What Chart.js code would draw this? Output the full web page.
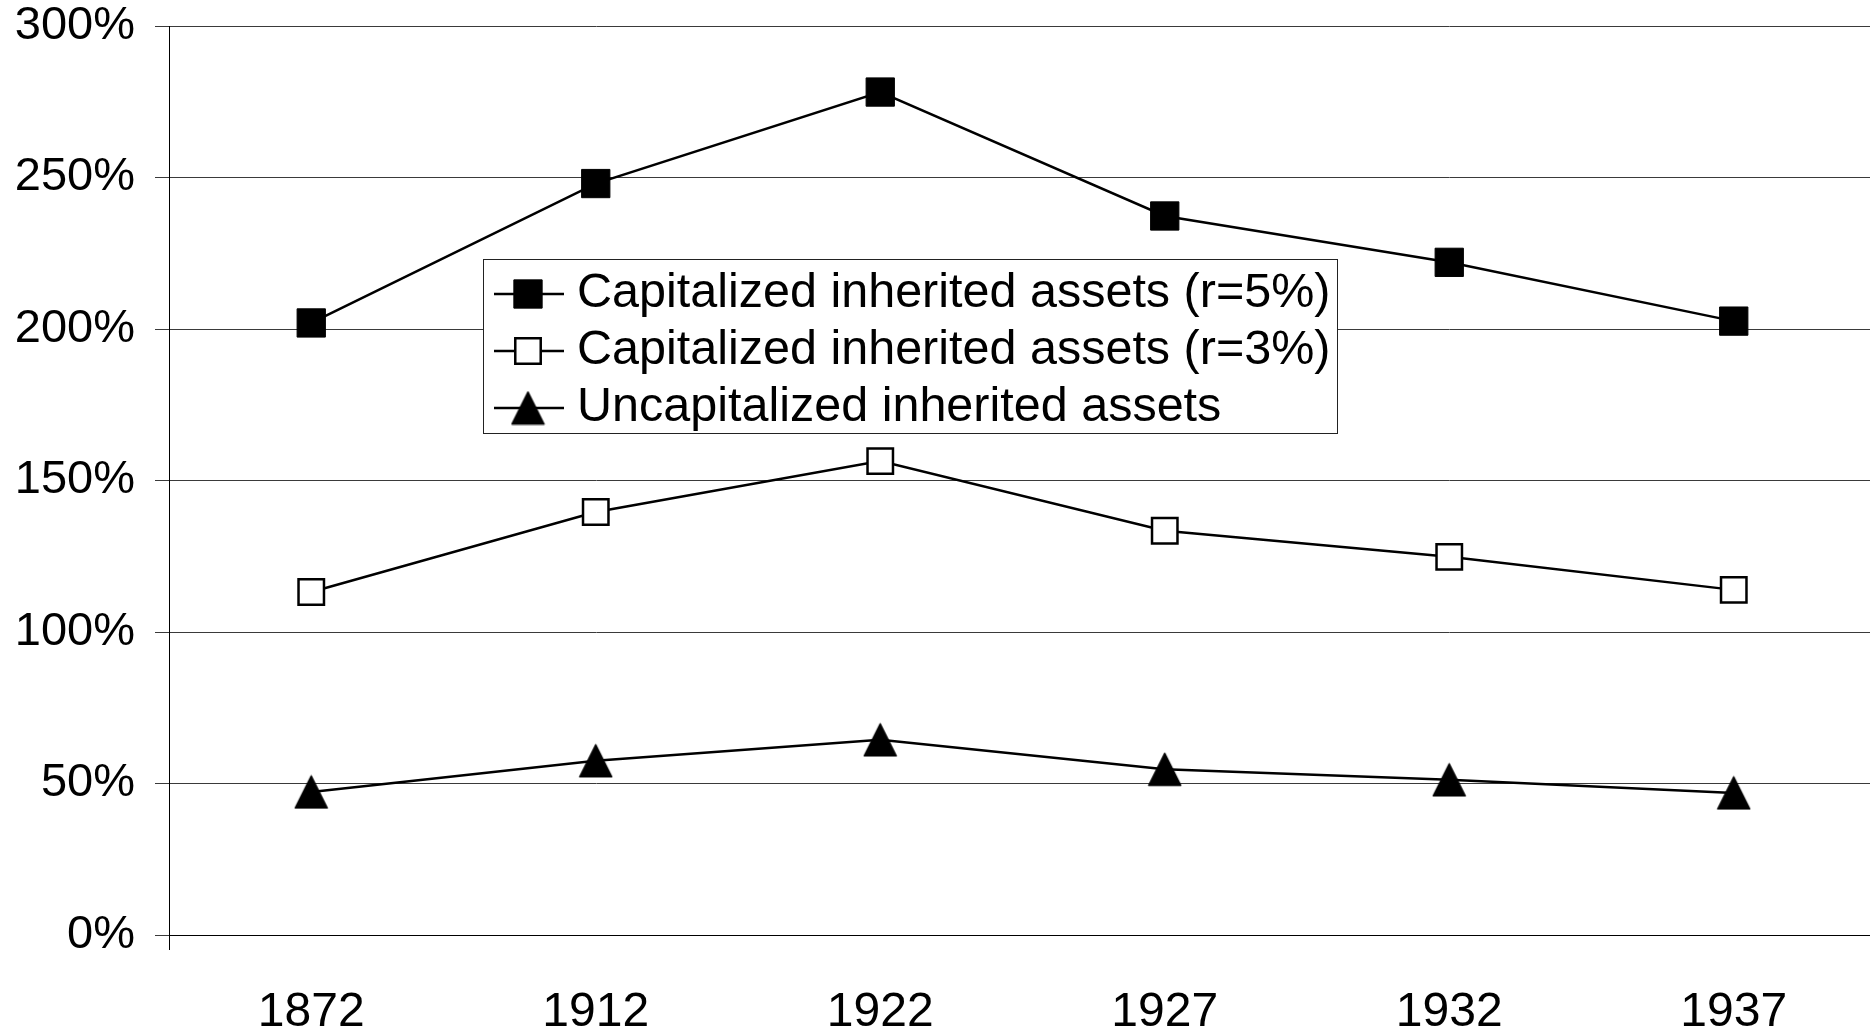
<!DOCTYPE html>
<html lang="en">
<head>
<meta charset="utf-8">
<title>Capitalized inherited assets</title>
<script src="https://cdn.jsdelivr.net/npm/chart.js@4.4.1/dist/chart.umd.min.js"></script>
<style>
  html, body { margin: 0; padding: 0; background: #fff; overflow: hidden; }
  /* plot runs a few px past the right edge of the window, like the original */
  #wrap { position: absolute; left: 0; top: 0; width: 1876px; height: 1030px; }
</style>
</head>
<body>
<div id="wrap"><canvas id="chart"></canvas></div>
<script>
/* ─── DATA ───────────────────────────────────────────────────
   Values, in %.
─────────────────────────────────────────────────────────────── */

const YEARS   = ['1872', '1912', '1922', '1927', '1932', '1937'];
const CAP_R5  = [202.0, 248.0, 278.2, 237.3, 222.0, 202.6];
const CAP_R3  = [113.2, 139.6, 156.4, 133.4, 124.8, 113.9];
const UNCAP   = [47.2, 57.5, 64.4, 54.7, 51.2, 46.9];
const LABELS  = [
  'Capitalized inherited assets (r=5%)',
  'Capitalized inherited assets (r=3%)',
  'Uncapitalized inherited assets',
];
const Y_MIN = 0, Y_MAX = 300, Y_STEP = 50;

const FONT = '"Liberation Sans", Arial, sans-serif';
Chart.defaults.font.family = FONT;
Chart.defaults.color = '#000';


/* ─── TRIANGLE MARKER ────────────────────────────────────────
   Chart.js centres its own triangle on the circumcircle, the
   original centres it on the box, so draw one on a small canvas.
─────────────────────────────────────────────────────────────── */

function makeTriangle(size) {
  const c = document.createElement('canvas');
  c.width = size; c.height = size;
  const g = c.getContext('2d');
  g.fillStyle = '#000';
  g.strokeStyle = '#000';
  g.lineWidth = 1.5;
  g.lineJoin = 'round';
  g.beginPath();
  g.moveTo(size / 2, 1.5);
  g.lineTo(size - 1.5, size - 1.5);
  g.lineTo(1.5, size - 1.5);
  g.closePath();
  g.fill();
  g.stroke();
  return c;
}

const TRIANGLE = makeTriangle(35);


/* ─── LEGEND ─────────────────────────────────────────────────
   Boxed legend inside the plot: line + marker + label per row.
─────────────────────────────────────────────────────────────── */

const boxLegend = {
  id: 'boxLegend',
  afterDraw(chart, args, o) {
    const ctx = chart.ctx;
    ctx.save();
    ctx.fillStyle = '#fff';
    ctx.fillRect(o.x, o.y, o.w, o.h);
    ctx.strokeStyle = '#222';
    ctx.lineWidth = 1;
    ctx.strokeRect(o.x + 0.5, o.y + 0.5, o.w, o.h);

    chart.data.datasets.forEach((ds, i) => {
      const cy = o.y + o.firstRow + i * o.rowGap;

      ctx.strokeStyle = ds.borderColor;
      ctx.lineWidth = ds.borderWidth;
      ctx.beginPath();
      ctx.moveTo(o.x + 11, cy);
      ctx.lineTo(o.x + 81, cy);
      ctx.stroke();

      ctx.fillStyle = ds.pointBackgroundColor;
      ctx.strokeStyle = ds.pointBorderColor;
      ctx.lineWidth = ds.pointBorderWidth;
      Chart.helpers.drawPoint(ctx, {
        pointStyle: ds.pointStyle,
        radius: ds.pointRadius,
        borderWidth: ds.pointBorderWidth,
        rotation: 0,
      }, o.x + 45, cy);

      ctx.fillStyle = '#000';
      ctx.font = `${o.fontSize}px ${FONT}`;
      ctx.textAlign = 'left';
      ctx.textBaseline = 'middle';
      ctx.fillText(ds.label, o.x + 94, cy);
    });
    ctx.restore();
  },
};


/* ─── CHART ──────────────────────────────────────────────────── */

const line = (label, data, extra) => Object.assign({
  label,
  data,
  borderColor: '#000',
  borderWidth: 2.5,
  pointBorderColor: '#000',
  tension: 0,
  fill: false,
}, extra);

new Chart(document.getElementById('chart'), {
  type: 'line',
  data: {
    labels: YEARS,
    datasets: [
      line(LABELS[0], CAP_R5, {
        pointStyle: 'rect', pointRadius: 20, pointBorderWidth: 1,
        pointBackgroundColor: '#000',
      }),
      line(LABELS[1], CAP_R3, {
        pointStyle: 'rect', pointRadius: 18, pointBorderWidth: 2.5,
        pointBackgroundColor: '#fff',
      }),
      line(LABELS[2], UNCAP, {
        pointStyle: TRIANGLE, pointRadius: 18, pointBorderWidth: 1,
        pointBackgroundColor: '#000',
      }),
    ],
  },
  options: {
    responsive: true,
    maintainAspectRatio: false,
    animation: false,
    layout: {
      autoPadding: false,
      padding: { left: 0, right: 0, top: 0, bottom: 0 },
    },
    plugins: {
      legend: { display: false },
      tooltip: { enabled: false },
      boxLegend: {
        x: 483, y: 259, w: 854, h: 174,
        firstRow: 35, rowGap: 57, fontSize: 48.5,
      },
    },
    scales: {
      x: {
        type: 'category',
        offset: true,
        grid: {
          offset: true,
          drawOnChartArea: false,
          drawTicks: true,
          tickLength: 15,
          // only the left boundary keeps its tick (axis runs past 0%)
          tickColor: (c) => (c.index === 0 ? '#000' : 'rgba(0,0,0,0)'),
        },
        border: { color: '#000', width: 1 },
        ticks: {
          font: { size: 48 },
          color: '#000',
          padding: 34,
          maxRotation: 0,
          autoSkip: false,
        },
        afterFit(scale) { scale.height = 95; },
      },
      y: {
        min: Y_MIN,
        max: Y_MAX,
        grid: {
          color: '#3a3a3a',
          lineWidth: 1,
          drawTicks: true,
          tickLength: 14,
        },
        border: { color: '#000', width: 1 },
        ticks: {
          stepSize: Y_STEP,
          font: { size: 47 },
          color: '#000',
          padding: 20,
          callback: (v) => v + '%',
        },
        afterFit(scale) {
          scale.width = 169;
          // top of the plot sits 26px below the canvas edge
          scale.paddingTop = 26;
        },
      },
    },
  },
  plugins: [boxLegend],
});
</script>
</body>
</html>
